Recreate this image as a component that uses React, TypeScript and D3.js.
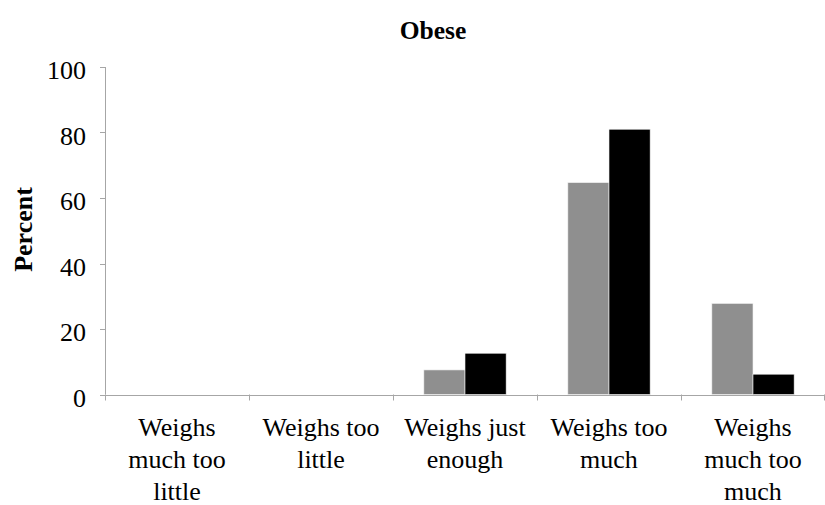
import React from "react";
import * as d3 from "d3";

const categories = [
  "Weighs much too little",
  "Weighs too little",
  "Weighs just enough",
  "Weighs too much",
  "Weighs much too much",
];
const categoryLines = [
  ["Weighs", "much too", "little"],
  ["Weighs too", "little"],
  ["Weighs just", "enough"],
  ["Weighs too", "much"],
  ["Weighs", "much too", "much"],
];
const seriesGray = [0, 0, 7.5, 64.7, 27.8];
const seriesBlack = [0, 0, 12.6, 81.0, 6.2];
const yTicks = [0, 20, 40, 60, 80, 100];

const W = 825;
const H = 505;
const margin = { left: 105, right: 0, top: 67, bottom: 110 };
const FONT = '"Liberation Serif", "Times New Roman", Times, serif';

export default function App() {
  const x = d3
    .scaleBand<string>()
    .domain(categories)
    .range([margin.left, W - margin.right])
    .paddingInner(0)
    .paddingOuter(0);
  const y = d3
    .scaleLinear()
    .domain([0, 100])
    .range([H - margin.bottom - 0.5, margin.top]);

  const bw = x.bandwidth();
  // two bars per category with a 150% gap width
  const barW = bw / 3.5;
  const gap = barW * 0.75;
  const series = [
    { values: seriesGray, color: "#8f8f8f" },
    { values: seriesBlack, color: "#000000" },
  ];
  const y0 = y(0);

  return (
    <svg
      width={W}
      height={H}
      style={{
        position: "absolute",
        left: 0,
        top: 0,
        background: "#fff",
        fontFamily: FONT,
      }}
    >
      <text
        x={433}
        y={38.5}
        textAnchor="middle"
        style={{ fontFamily: FONT, fontWeight: 700, fontSize: 25.5 }}
      >
        Obese
      </text>
      <text
        transform={`translate(32, 229.5) rotate(-90)`}
        textAnchor="middle"
        style={{ fontFamily: FONT, fontWeight: 700, fontSize: 26 }}
      >
        Percent
      </text>

      {series.map((s, si) =>
        s.values.map((v, i) => {
          const bx = (x(categories[i]) as number) + gap + si * barW;
          const top = y(v);
          if (v <= 0) return null;
          return (
            <rect
              key={`${si}-${i}`}
              x={bx}
              y={top}
              width={barW}
              height={y0 - top}
              fill={s.color}
              stroke="#f2f2f2"
              strokeWidth={0.6}
            />
          );
        })
      )}

      {/* y axis */}
      <line
        x1={margin.left + 0.5}
        x2={margin.left + 0.5}
        y1={margin.top}
        y2={y0}
        stroke="#a6a6a6"
        strokeWidth={1}
      />
      {yTicks.map((t) => (
        <g key={t}>
          <line
            x1={margin.left - 5}
            x2={margin.left + 0.5}
            y1={Math.round(y(t)) + 0.5}
            y2={Math.round(y(t)) + 0.5}
            stroke="#a6a6a6"
          />
          <text
            x={86}
            y={y(t) + 12}
            textAnchor="end"
            style={{ fontFamily: FONT, fontSize: 26 }}
          >
            {t}
          </text>
        </g>
      ))}

      {/* x axis */}
      <line
        x1={margin.left}
        x2={W}
        y1={Math.round(y0) + 0.5}
        y2={Math.round(y0) + 0.5}
        stroke="#a6a6a6"
      />
      {categories.map((c) => (
        <line
          key={c}
          x1={Math.round(x(c) as number) + 0.5}
          x2={Math.round(x(c) as number) + 0.5}
          y1={y0}
          y2={y0 + 6}
          stroke="#a6a6a6"
        />
      ))}
      <line
        x1={W - 0.5}
        x2={W - 0.5}
        y1={y0}
        y2={y0 + 6}
        stroke="#a6a6a6"
      />
      {categories.map((c, i) => (
        <text
          key={c}
          textAnchor="middle"
          style={{ fontFamily: FONT, fontSize: 26 }}
        >
          {categoryLines[i].map((ln, j) => (
            <tspan key={j} x={(x(c) as number) + bw / 2} y={436 + j * 32}>
              {ln}
            </tspan>
          ))}
        </text>
      ))}
    </svg>
  );
}
